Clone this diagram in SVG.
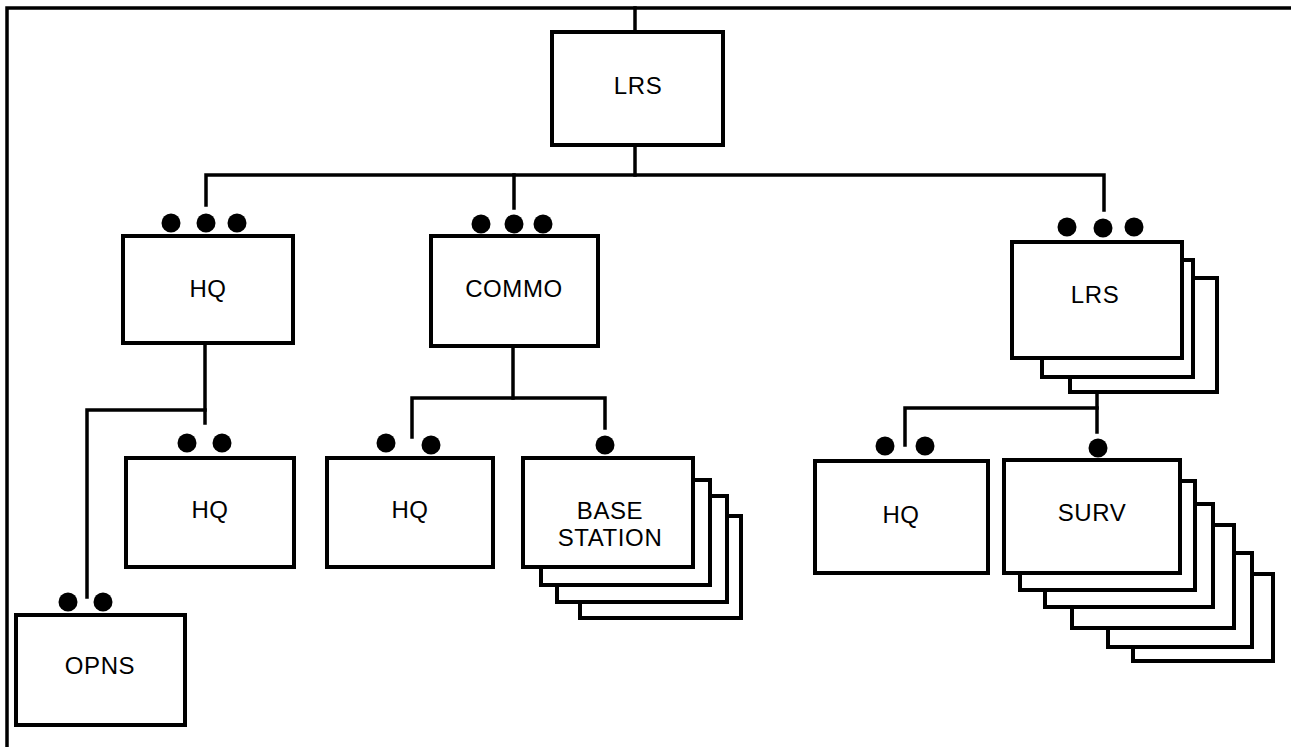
<svg xmlns="http://www.w3.org/2000/svg" width="1291" height="747" viewBox="0 0 1291 747">
<style>
.box{fill:#fff;stroke:#000;stroke-width:4}
.ln{fill:none;stroke:#000;stroke-width:3.5;stroke-linecap:square}
.dot{fill:#000}
.t{font-family:"Liberation Sans",Arial,sans-serif;font-size:24px;letter-spacing:0.6px;fill:#000;text-anchor:middle}
</style>
<rect width="1291" height="747" fill="#fff"/>
<g id="frame"><path class="ln" d="M7,747 V8 H1291" stroke-width="3"/></g>
<g id="connectors">
<path class="ln" d="M635,8 V32"/>
<path class="ln" d="M635,145 V175"/>
<path class="ln" d="M206,205 V175 H1104 V210"/>
<path class="ln" d="M514,175 V208"/>
<path class="ln" d="M205,344 V423"/>
<path class="ln" d="M205,410 H87 V597"/>
<path class="ln" d="M513,346 V398"/>
<path class="ln" d="M412,437 V398 H605 V428"/>
<path class="ln" d="M1097,392 V432"/>
<path class="ln" d="M905,445 V408 H1097"/>
</g>
<g id="lrs-top">
<rect class="box" x="552" y="32" width="171" height="113"/>
<text class="t" x="638" y="94">LRS</text>
</g>
<g id="hq-1">
<circle class="dot" cx="171" cy="223" r="9.5"/><circle class="dot" cx="206" cy="223" r="9.5"/><circle class="dot" cx="237" cy="223" r="9.5"/>
<rect class="box" x="123" y="236" width="170" height="107"/>
<text class="t" x="208" y="297">HQ</text>
</g>
<g id="commo">
<circle class="dot" cx="481" cy="224" r="9.5"/><circle class="dot" cx="514" cy="224" r="9.5"/><circle class="dot" cx="543" cy="224" r="9.5"/>
<rect class="box" x="431" y="236" width="167" height="110"/>
<text class="t" x="514" y="297">COMMO</text>
</g>
<g id="lrs-2">
<circle class="dot" cx="1067" cy="227" r="9.5"/><circle class="dot" cx="1103" cy="228" r="9.5"/><circle class="dot" cx="1134" cy="227" r="9.5"/>
<rect class="box" x="1070" y="278" width="147" height="114"/>
<rect class="box" x="1042" y="260" width="151" height="117"/>
<rect class="box" x="1012" y="242" width="170" height="116"/>
<text class="t" x="1095" y="303">LRS</text>
</g>
<g id="hq-2">
<circle class="dot" cx="187" cy="443" r="9.5"/><circle class="dot" cx="222" cy="443" r="9.5"/>
<rect class="box" x="126" y="458" width="168" height="109"/>
<text class="t" x="210" y="518">HQ</text>
</g>
<g id="opns">
<circle class="dot" cx="68" cy="602" r="9.5"/><circle class="dot" cx="103" cy="602" r="9.5"/>
<rect class="box" x="16" y="615" width="169" height="110"/>
<text class="t" x="100" y="674">OPNS</text>
</g>
<g id="hq-3">
<circle class="dot" cx="386" cy="443" r="9.5"/><circle class="dot" cx="431" cy="445" r="9.5"/>
<rect class="box" x="327" y="458" width="166" height="109"/>
<text class="t" x="410" y="518">HQ</text>
</g>
<g id="base-station">
<circle class="dot" cx="605" cy="445" r="9.5"/>
<rect class="box" x="580" y="516" width="161" height="102"/>
<rect class="box" x="557" y="496" width="170" height="106"/>
<rect class="box" x="541" y="480" width="169" height="105"/>
<rect class="box" x="523" y="458" width="170" height="109"/>
<text class="t" x="610" y="519">BASE</text>
<text class="t" x="610" y="546">STATION</text>
</g>
<g id="hq-4">
<circle class="dot" cx="885" cy="446" r="9.5"/><circle class="dot" cx="925" cy="446" r="9.5"/>
<rect class="box" x="815" y="461" width="173" height="112"/>
<text class="t" x="901" y="523">HQ</text>
</g>
<g id="surv">
<circle class="dot" cx="1098" cy="448" r="9.5"/>
<rect class="box" x="1133" y="574" width="140" height="87"/>
<rect class="box" x="1108" y="553" width="144" height="94"/>
<rect class="box" x="1072" y="525" width="162" height="103"/>
<rect class="box" x="1045" y="504" width="168" height="103"/>
<rect class="box" x="1020" y="481" width="175" height="109"/>
<rect class="box" x="1004" y="460" width="176" height="113"/>
<text class="t" x="1092" y="521">SURV</text>
</g>
</svg>
